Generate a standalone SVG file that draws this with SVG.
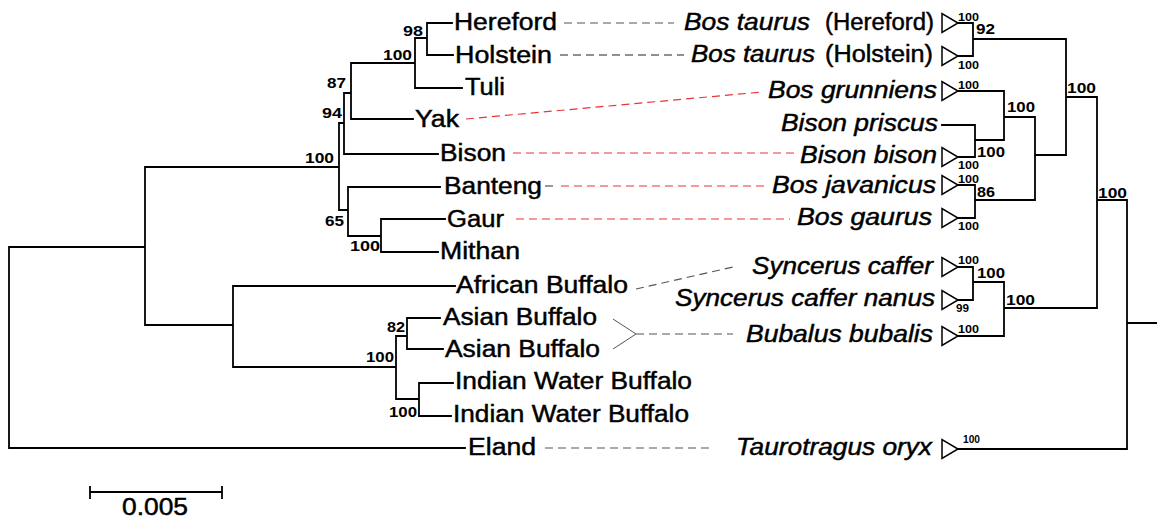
<svg xmlns="http://www.w3.org/2000/svg" width="1157" height="519" viewBox="0 0 1157 519">
<style>
.br{fill:none;stroke:#000;stroke-width:1.8;stroke-linecap:square}
.lf{font-family:"Liberation Sans",Arial,sans-serif;font-size:23px;fill:#000;stroke:#000;stroke-width:0.45}
.it{font-style:italic}
.bs{font-family:"Liberation Sans",Arial,sans-serif;font-size:15px;font-weight:bold;fill:#000}
.bsr{font-family:"Liberation Sans",Arial,sans-serif;font-size:14px;font-weight:bold;fill:#000}
.sm{font-family:"Liberation Sans",Arial,sans-serif;font-size:11.5px;font-weight:bold;fill:#000}
.dg{fill:none;stroke:#555;stroke-width:1.2;stroke-dasharray:8 5}
.dk{fill:none;stroke:#222;stroke-width:1.2;stroke-dasharray:8 5}
.dr{fill:none;stroke:#e83535;stroke-width:1.2;stroke-dasharray:8 5}
.tri{fill:#fff;stroke:#000;stroke-width:1.5}
</style>
<defs>
<polygon id="tri" points="0,-9.5 0,9.5 16,0"/>
</defs>
<rect width="1157" height="519" fill="#fff"/>
<g id="connectors">
<path class="br" d="M9,247 V448 M9,247 H145 M9,448 H465
M145,167 V325 M145,167 H339 M145,325 H233
M339,123 V210 M339,123 H344 M339,210 H348
M344,93 V154 M344,93 H351 M344,154 H438
M351,63 V119 M351,63 H415 M351,119 H413
M415,38 V88 M415,38 H427 M415,88 H462
M427,23 V55 M427,23 H452 M427,55 H453
M348,187 V236 M348,187 H440 M348,236 H381
M381,219 V252 M381,219 H445 M381,252 H438
M233,286 V367 M233,286 H455 M233,367 H396
M396,336 V399 M396,336 H407 M396,399 H419
M407,318 V349 M407,318 H440 M407,349 H443
M419,383 V416 M419,383 H453 M419,416 H451"/>
<path class="br" d="M958,23 H973 V56 H958 M973,39 H1066
M958,91 H1004 V140 M942,125 H975 V157 H958 M975,140 H1004 M1004,117 H1035
M958,185 H975 V218 H958 M975,200 H1035 M1035,117 V200 M1035,155 H1066 M1066,39 V155 M1066,97 H1097
M958,267 H973 V300 H958 M973,282 H1004 M958,336 H1004 V282 M1004,308 H1097 M1097,97 V308 M1097,200 H1127 M1127,200 V449 M958,449 H1127 M1127,323 H1157"/>
<path class="dg" d="M564,23 H674"/>
<path class="dk" d="M560,55 H684"/>
<path class="dr" d="M466,119 L762,92"/>
<path class="dr" d="M513,153 H798"/>
<path class="dg" d="M545,186 H558"/>
<path class="dr" d="M561,186 H767"/>
<path class="dr" d="M516,219 H790"/>
<path class="dg" d="M636,289 L733,267"/>
<path class="dg" style="stroke-dasharray:none;stroke-width:1" d="M613,319 L636,334 L613,349"/>
<path class="dg" d="M636,334 H733"/>
<path class="dg" d="M545,448 H714"/>
<path class="br" d="M90,492 H222 M90,487 V498 M222,487 V498"/>
</g>
<g id="triangles">
<use href="#tri" class="tri" x="942" y="23"/>
<use href="#tri" class="tri" x="942" y="56"/>
<use href="#tri" class="tri" x="942" y="91"/>
<use href="#tri" class="tri" x="942" y="157"/>
<use href="#tri" class="tri" x="942" y="185"/>
<use href="#tri" class="tri" x="942" y="218"/>
<use href="#tri" class="tri" x="942" y="267"/>
<use href="#tri" class="tri" x="942" y="300"/>
<use href="#tri" class="tri" x="942" y="336"/>
<use href="#tri" class="tri" x="942" y="449"/>
</g>
<g id="n-hereford"><text class="lf" x="454" y="30" textLength="103" lengthAdjust="spacingAndGlyphs">Hereford</text><text class="lf it" x="684" y="30" textLength="126" lengthAdjust="spacingAndGlyphs">Bos taurus</text><text class="lf" x="825" y="30" textLength="109" lengthAdjust="spacingAndGlyphs">(Hereford)</text></g>
<g id="n-holstein"><text class="lf" x="455" y="63" textLength="97" lengthAdjust="spacingAndGlyphs">Holstein</text><text class="lf it" x="691" y="62" textLength="124" lengthAdjust="spacingAndGlyphs">Bos taurus</text><text class="lf" x="825" y="62" textLength="108" lengthAdjust="spacingAndGlyphs">(Holstein)</text></g>
<g id="n-tuli"><text class="lf" x="465" y="95" textLength="40" lengthAdjust="spacingAndGlyphs">Tuli</text></g>
<g id="n-yak"><text class="lf" x="415" y="127" textLength="44" lengthAdjust="spacingAndGlyphs">Yak</text><text class="lf it" x="768" y="98" textLength="169" lengthAdjust="spacingAndGlyphs">Bos grunniens</text></g>
<g id="n-priscus"><text class="lf it" x="781" y="131" textLength="157" lengthAdjust="spacingAndGlyphs">Bison priscus</text></g>
<g id="n-bison"><text class="lf" x="440" y="161" textLength="66" lengthAdjust="spacingAndGlyphs">Bison</text><text class="lf it" x="800" y="163" textLength="137" lengthAdjust="spacingAndGlyphs">Bison bison</text></g>
<g id="n-banteng"><text class="lf" x="444" y="194" textLength="98" lengthAdjust="spacingAndGlyphs">Banteng</text><text class="lf it" x="772" y="193" textLength="164" lengthAdjust="spacingAndGlyphs">Bos javanicus</text></g>
<g id="n-gaur"><text class="lf" x="447" y="227" textLength="57" lengthAdjust="spacingAndGlyphs">Gaur</text><text class="lf it" x="797" y="225" textLength="135" lengthAdjust="spacingAndGlyphs">Bos gaurus</text></g>
<g id="n-mithan"><text class="lf" x="440" y="259" textLength="80" lengthAdjust="spacingAndGlyphs">Mithan</text></g>
<g id="n-african"><text class="lf" x="456" y="293" textLength="172" lengthAdjust="spacingAndGlyphs">African Buffalo</text><text class="lf it" x="752" y="274" textLength="181" lengthAdjust="spacingAndGlyphs">Syncerus caffer</text></g>
<g id="n-nanus"><text class="lf it" x="675" y="306" textLength="260" lengthAdjust="spacingAndGlyphs">Syncerus caffer nanus</text></g>
<g id="n-asian"><text class="lf" x="443" y="325" textLength="154" lengthAdjust="spacingAndGlyphs">Asian Buffalo</text><text class="lf" x="445" y="357" textLength="155" lengthAdjust="spacingAndGlyphs">Asian Buffalo</text><text class="lf it" x="746" y="342" textLength="187" lengthAdjust="spacingAndGlyphs">Bubalus bubalis</text></g>
<g id="n-indian"><text class="lf" x="455" y="389" textLength="237" lengthAdjust="spacingAndGlyphs">Indian Water Buffalo</text><text class="lf" x="453" y="422" textLength="236" lengthAdjust="spacingAndGlyphs">Indian Water Buffalo</text></g>
<g id="n-eland"><text class="lf" x="468" y="455" textLength="68" lengthAdjust="spacingAndGlyphs">Eland</text><text class="lf it" x="736" y="455" textLength="196" lengthAdjust="spacingAndGlyphs">Taurotragus oryx</text></g>
<g id="bootstrap-left">
<text class="bs" x="403" y="36" textLength="20" lengthAdjust="spacingAndGlyphs">98</text>
<text class="bs" x="383" y="60" textLength="29" lengthAdjust="spacingAndGlyphs">100</text>
<text class="bs" x="327" y="88" textLength="19" lengthAdjust="spacingAndGlyphs">87</text>
<text class="bs" x="322" y="118" textLength="20" lengthAdjust="spacingAndGlyphs">94</text>
<text class="bs" x="305" y="163" textLength="29" lengthAdjust="spacingAndGlyphs">100</text>
<text class="bs" x="325" y="226" textLength="19" lengthAdjust="spacingAndGlyphs">65</text>
<text class="bs" x="350" y="251" textLength="30" lengthAdjust="spacingAndGlyphs">100</text>
<text class="bs" x="387" y="332" textLength="18" lengthAdjust="spacingAndGlyphs">82</text>
<text class="bs" x="366" y="362" textLength="28" lengthAdjust="spacingAndGlyphs">100</text>
<text class="bs" x="389" y="417" textLength="28" lengthAdjust="spacingAndGlyphs">100</text>
</g>
<g id="bootstrap-right">
<text class="bsr" x="976" y="34" textLength="19" lengthAdjust="spacingAndGlyphs">92</text>
<text class="bsr" x="1067" y="93" textLength="29" lengthAdjust="spacingAndGlyphs">100</text>
<text class="bsr" x="1007" y="112" textLength="28" lengthAdjust="spacingAndGlyphs">100</text>
<text class="bsr" x="977" y="157" textLength="28" lengthAdjust="spacingAndGlyphs">100</text>
<text class="bsr" x="977" y="197" textLength="18" lengthAdjust="spacingAndGlyphs">86</text>
<text class="bsr" x="1098" y="198" textLength="29" lengthAdjust="spacingAndGlyphs">100</text>
<text class="bsr" x="977" y="278" textLength="28" lengthAdjust="spacingAndGlyphs">100</text>
<text class="bsr" x="1006" y="305" textLength="29" lengthAdjust="spacingAndGlyphs">100</text>
<text class="sm" x="958" y="21" textLength="21" lengthAdjust="spacingAndGlyphs">100</text>
<text class="sm" x="958" y="69" textLength="21" lengthAdjust="spacingAndGlyphs">100</text>
<text class="sm" x="958" y="89" textLength="21" lengthAdjust="spacingAndGlyphs">100</text>
<text class="sm" x="958" y="169" textLength="21" lengthAdjust="spacingAndGlyphs">100</text>
<text class="sm" x="958" y="183" textLength="21" lengthAdjust="spacingAndGlyphs">100</text>
<text class="sm" x="958" y="230" textLength="21" lengthAdjust="spacingAndGlyphs">100</text>
<text class="sm" x="958" y="264" textLength="21" lengthAdjust="spacingAndGlyphs">100</text>
<text class="sm" x="956" y="312" textLength="13" lengthAdjust="spacingAndGlyphs">99</text>
<text class="sm" x="958" y="333" textLength="21" lengthAdjust="spacingAndGlyphs">100</text>
<text class="sm" x="963" y="443" textLength="17" lengthAdjust="spacingAndGlyphs">100</text>
</g>
<g id="scale"><text class="lf" x="122" y="515" textLength="66" lengthAdjust="spacingAndGlyphs">0.005</text></g>
</svg>
